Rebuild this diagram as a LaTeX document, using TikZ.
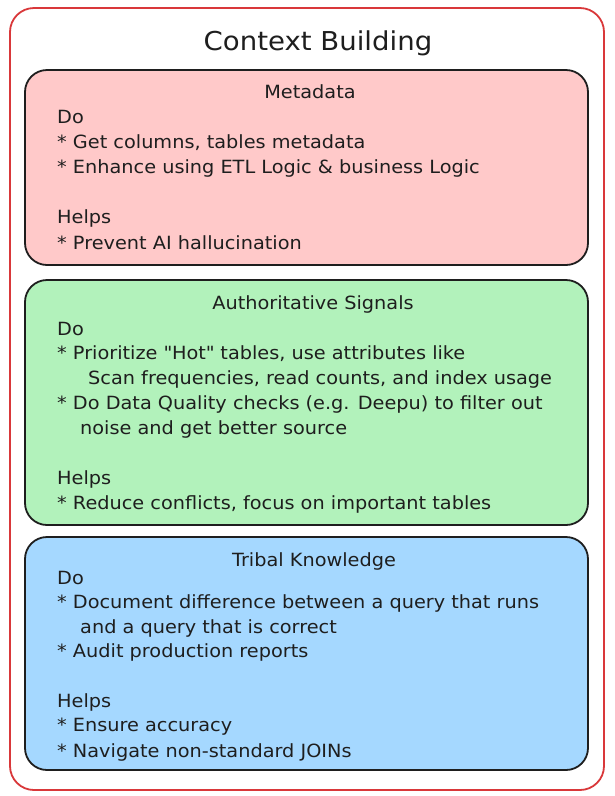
\documentclass[tikz,border=0pt]{standalone}
\usepackage{fontspec}
\setmainfont{DejaVu Sans}[FakeStretch=1.06]
\definecolor{outerred}{HTML}{D9383A}
\definecolor{ink}{HTML}{1E1E1E}
\definecolor{pinkfill}{HTML}{FFC9C9}
\definecolor{greenfill}{HTML}{B2F2BB}
\definecolor{bluefill}{HTML}{A5D8FF}
\begin{document}
\begin{tikzpicture}[x=1pt,y=-1pt,
  txt/.style={anchor=west,inner sep=0pt,font=\fontsize{18.2}{21}\selectfont,text=ink},
  hdr/.style={anchor=center,inner sep=0pt,font=\fontsize{18.2}{21}\selectfont,text=ink},
  card/.style={draw=ink,line width=1.8pt,rounded corners=22pt}]
\useasboundingbox (0,0) rectangle (614,796);
\fill[white] (0,0) rectangle (614,796);
% outer frame
\draw[outerred,line width=1.8pt,rounded corners=24pt] (10,8) rectangle (604,790);
\node[anchor=center,inner sep=0pt,font=\fontsize{26}{30}\selectfont,text=ink] (title) at (318,43) {Context Building};
% Metadata
\draw[card,fill=pinkfill] (25,70) rectangle (588,265);
\node[hdr] (mh) at (310,92) {Metadata};
\node[txt] (m1) at (57,117) {Do};
\node[txt] (m2) at (57,143) {* Get columns, tables metadata};
\node[txt] (m3) at (57,168) {* Enhance using ETL Logic \& business Logic};
\node[txt] (m4) at (57,218) {Helps};
\node[txt] (m5) at (57,243) {* Prevent AI hallucination};
% Authoritative Signals
\draw[card,fill=greenfill] (25,280) rectangle (588,525);
\node[hdr] (ah) at (313,304) {Authoritative Signals};
\node[txt] (a1) at (57,329) {Do};
\node[txt] (a2) at (57,354) {* Prioritize \textquotedbl Hot\textquotedbl{} tables, use attributes like};
\node[txt] (a3) at (88,379) {Scan frequencies, read counts, and index usage};
\node[txt] (a4) at (57,404) {* Do Data Quality checks (e.g. Deepu) to filter out};
\node[txt] (a5) at (80,429) {noise and get better source};
\node[txt] (a6) at (57,479) {Helps};
\node[txt] (a7) at (57,504) {* Reduce conflicts, focus on important tables};
% Tribal Knowledge
\draw[card,fill=bluefill] (25,537) rectangle (588,770);
\node[hdr] (th) at (314,561) {Tribal Knowledge};
\node[txt] (t1) at (57,578) {Do};
\node[txt] (t2) at (57,603) {* Document difference between a query that runs};
\node[txt] (t3) at (80,628) {and a query that is correct};
\node[txt] (t4) at (57,652) {* Audit production reports};
\node[txt] (t5) at (57,702) {Helps};
\node[txt] (t6) at (57,727) {* Ensure accuracy};
\node[txt] (t7) at (57,752) {* Navigate non-standard JOINs};
\end{tikzpicture}
\end{document}
